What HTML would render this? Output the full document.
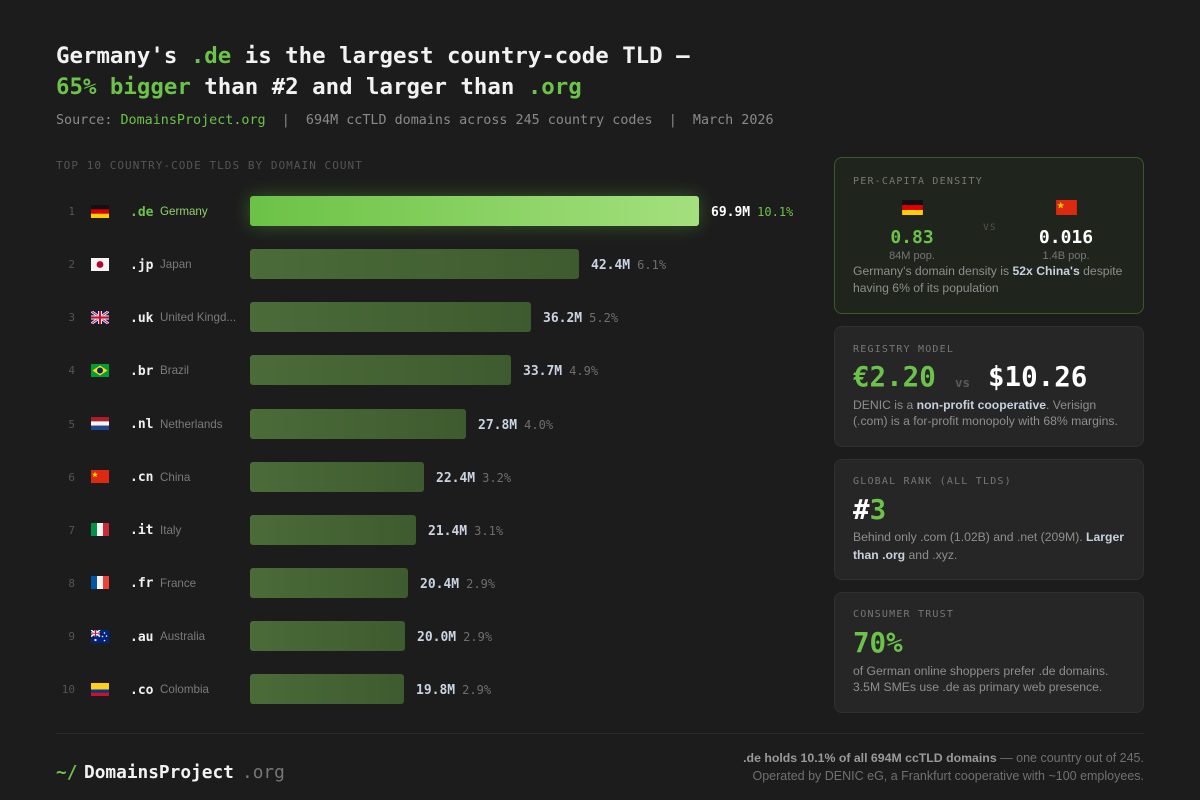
<!DOCTYPE html>
<html><head><meta charset="utf-8">
<style>
*{margin:0;padding:0;box-sizing:border-box}
html,body{width:1200px;height:800px;background:#1c1c1c;overflow:hidden}
#c{position:relative;width:1200px;height:800px;background:#1c1c1c;color:#eee}
.m{font-family:"DejaVu Sans Mono","Liberation Mono",monospace}
.s{font-family:"Liberation Sans",Arial,sans-serif}
.a{position:absolute;white-space:nowrap}
.g{color:#6cc24a}
.title{left:56px;top:40.5px;font-size:22.4px;line-height:31px;font-weight:bold;color:#f2f2f2}
.src{left:56px;top:113px;font-size:13.4px;line-height:16px;color:#8a8a8a;white-space:pre}
.sec{left:56px;top:158.5px;font-size:11px;line-height:13px;letter-spacing:1.05px;color:#555}
.row{position:absolute;left:0;width:820px;height:30px;line-height:30px}
.row .rk{position:absolute;top:1px;left:50px;width:25px;text-align:right;font-size:11px;color:#555}
.row .fl{position:absolute;left:91px;top:8.5px;width:18px;height:13px}
.row .tl{position:absolute;top:1.5px;left:130px;font-size:13px;font-weight:bold;color:#f0f0f0}
.row .nm{position:absolute;top:1px;left:160px;font-size:11.6px;color:#7a7a7a}
.row .bar{position:absolute;left:250px;top:0;height:30px;border-radius:3px;background:linear-gradient(90deg,#4b6b39,#3e5b2f)}
.row .val{position:absolute;top:1px;font-size:13px;font-weight:bold;color:#c9d3e1}
.row .val span{font-size:12px;font-weight:normal;color:#6e6e6e;margin-left:7px}
.pan{position:absolute;left:834px;width:310px;border:1px solid #303030;background:#262626;border-radius:8px}
.lab{font-size:10px;line-height:12px;letter-spacing:1.2px;color:#777}
.desc{font-size:12.2px;line-height:16.7px;color:#8e8e8e}
.desc b{color:#c6d0de}
.big{font-size:27.5px;line-height:33px;font-weight:bold}
</style></head><body><div id="c">

<div class="a m title">Germany's <span class="g">.de</span> is the largest country-code TLD —<br><span class="g">65% bigger</span> than #2 and larger than <span class="g">.org</span></div>
<div class="a m src">Source: <span class="g">DomainsProject.org</span>  |  694M ccTLD domains across 245 country codes  |  March 2026</div>
<div class="a m sec">TOP 10 COUNTRY-CODE TLDS BY DOMAIN COUNT</div>

<!-- rows -->
<div class="row m" style="top:196px">
 <div class="rk">1</div>
 <svg class="fl" viewBox="0 0 18 13"><rect width="18" height="4.4" fill="#111"/><rect y="4.33" width="18" height="4.4" fill="#dd0000"/><rect y="8.67" width="18" height="4.33" fill="#ffce00"/></svg>
 <div class="tl" style="color:#6cc24a">.de</div>
 <div class="nm s" style="color:#8fd16b">Germany</div>
 <div class="bar" style="width:449px;background:linear-gradient(90deg,#6bc245,#a4e07e);box-shadow:0 0 18px rgba(110,200,70,0.35)"></div>
 <div class="val" style="left:711px;color:#fff">69.9M<span style="color:#6cc24a">10.1%</span></div>
</div>

<div class="row m" style="top:249.14px">
 <div class="rk">2</div>
 <svg class="fl" viewBox="0 0 18 13"><rect width="18" height="13" fill="#f4f4f4"/><circle cx="9" cy="6.5" r="3.4" fill="#bc002d"/></svg>
 <div class="tl">.jp</div>
 <div class="nm s">Japan</div>
 <div class="bar" style="width:329px"></div>
 <div class="val" style="left:591px">42.4M<span>6.1%</span></div>
</div>

<div class="row m" style="top:302.28px">
 <div class="rk">3</div>
 <svg class="fl" viewBox="0 0 18 13"><rect width="18" height="13" fill="#012169"/><path d="M0 0L18 13M18 0L0 13" stroke="#fff" stroke-width="2.6"/><path d="M0 0L18 13M18 0L0 13" stroke="#c8102e" stroke-width="1"/><path d="M9 0V13M0 6.5H18" stroke="#fff" stroke-width="4"/><path d="M9 0V13M0 6.5H18" stroke="#c8102e" stroke-width="2.2"/></svg>
 <div class="tl">.uk</div>
 <div class="nm s">United Kingd...</div>
 <div class="bar" style="width:281px"></div>
 <div class="val" style="left:543px">36.2M<span>5.2%</span></div>
</div>

<div class="row m" style="top:355.42px">
 <div class="rk">4</div>
 <svg class="fl" viewBox="0 0 18 13"><rect width="18" height="13" fill="#009c3b"/><polygon points="9,1.5 16.5,6.5 9,11.5 1.5,6.5" fill="#ffdf00"/><circle cx="9" cy="6.5" r="3" fill="#002776"/></svg>
 <div class="tl">.br</div>
 <div class="nm s">Brazil</div>
 <div class="bar" style="width:261px"></div>
 <div class="val" style="left:523px">33.7M<span>4.9%</span></div>
</div>

<div class="row m" style="top:408.56px">
 <div class="rk">5</div>
 <svg class="fl" viewBox="0 0 18 13"><rect width="18" height="4.4" fill="#ae1c28"/><rect y="4.33" width="18" height="4.4" fill="#f4f4f4"/><rect y="8.67" width="18" height="4.33" fill="#21468b"/></svg>
 <div class="tl">.nl</div>
 <div class="nm s">Netherlands</div>
 <div class="bar" style="width:216px"></div>
 <div class="val" style="left:478px">27.8M<span>4.0%</span></div>
</div>

<div class="row m" style="top:461.7px">
 <div class="rk">6</div>
 <svg class="fl" viewBox="0 0 18 13"><rect width="18" height="13" fill="#de2910"/><polygon points="4,1.6 4.8,3.8 7,3.8 5.2,5.1 5.9,7.3 4,6 2.1,7.3 2.8,5.1 1,3.8 3.2,3.8" fill="#ffde00"/></svg>
 <div class="tl">.cn</div>
 <div class="nm s">China</div>
 <div class="bar" style="width:174px"></div>
 <div class="val" style="left:436px">22.4M<span>3.2%</span></div>
</div>

<div class="row m" style="top:514.84px">
 <div class="rk">7</div>
 <svg class="fl" viewBox="0 0 18 13"><rect width="6.1" height="13" fill="#009246"/><rect x="6" width="6.1" height="13" fill="#f4f4f4"/><rect x="12" width="6" height="13" fill="#ce2b37"/></svg>
 <div class="tl">.it</div>
 <div class="nm s">Italy</div>
 <div class="bar" style="width:166px"></div>
 <div class="val" style="left:428px">21.4M<span>3.1%</span></div>
</div>

<div class="row m" style="top:567.98px">
 <div class="rk">8</div>
 <svg class="fl" viewBox="0 0 18 13"><rect width="6.1" height="13" fill="#0055a4"/><rect x="6" width="6.1" height="13" fill="#f4f4f4"/><rect x="12" width="6" height="13" fill="#ef4135"/></svg>
 <div class="tl">.fr</div>
 <div class="nm s">France</div>
 <div class="bar" style="width:158px"></div>
 <div class="val" style="left:420px">20.4M<span>2.9%</span></div>
</div>

<div class="row m" style="top:621.12px">
 <div class="rk">9</div>
 <svg class="fl" viewBox="0 0 18 13"><rect width="18" height="13" fill="#00247d"/><g><path d="M0 0L9 6.5M9 0L0 6.5" stroke="#fff" stroke-width="1.4"/><path d="M4.5 0V6.5M0 3.25H9" stroke="#fff" stroke-width="2"/><path d="M4.5 0V6.5M0 3.25H9" stroke="#c8102e" stroke-width="1"/></g><circle cx="4.5" cy="10" r="1.1" fill="#fff"/><circle cx="13.5" cy="3" r="0.8" fill="#fff"/><circle cx="11.5" cy="6.5" r="0.8" fill="#fff"/><circle cx="15.5" cy="6" r="0.8" fill="#fff"/><circle cx="13.5" cy="10.5" r="0.8" fill="#fff"/></svg>
 <div class="tl">.au</div>
 <div class="nm s">Australia</div>
 <div class="bar" style="width:155px"></div>
 <div class="val" style="left:417px">20.0M<span>2.9%</span></div>
</div>

<div class="row m" style="top:674.26px">
 <div class="rk">10</div>
 <svg class="fl" viewBox="0 0 18 13"><rect width="18" height="6.6" fill="#fcd116"/><rect y="6.5" width="18" height="3.3" fill="#003893"/><rect y="9.75" width="18" height="3.25" fill="#ce1126"/></svg>
 <div class="tl">.co</div>
 <div class="nm s">Colombia</div>
 <div class="bar" style="width:154px"></div>
 <div class="val" style="left:416px">19.8M<span>2.9%</span></div>
</div>

<!-- panels -->
<div class="pan" style="top:157px;height:157px;background:#1f241c;border-color:#3a5a2b"></div>
<div class="pan" style="top:326px;height:121px"></div>
<div class="pan" style="top:459px;height:121px"></div>
<div class="pan" style="top:592px;height:121px"></div>

<!-- panel 1 -->
<div class="a m lab" style="left:853px;top:176px">PER-CAPITA DENSITY</div>
<svg class="a" style="left:902px;top:200px" width="21" height="15" viewBox="0 0 18 13"><rect width="18" height="4.4" fill="#111"/><rect y="4.33" width="18" height="4.4" fill="#dd0000"/><rect y="8.67" width="18" height="4.33" fill="#ffce00"/></svg>
<svg class="a" style="left:1056px;top:200px" width="21" height="15" viewBox="0 0 18 13"><rect width="18" height="13" fill="#de2910"/><polygon points="4,1.6 4.8,3.8 7,3.8 5.2,5.1 5.9,7.3 4,6 2.1,7.3 2.8,5.1 1,3.8 3.2,3.8" fill="#ffde00"/></svg>
<div class="a m" style="left:862px;width:100px;text-align:center;top:226.5px;font-size:18px;line-height:22px;font-weight:bold;color:#6cc24a">0.83</div>
<div class="a s" style="left:862px;width:100px;text-align:center;top:249.5px;font-size:11px;line-height:13px;color:#777">84M pop.</div>
<div class="a m" style="left:970px;width:40px;text-align:center;top:223px;font-size:9px;line-height:11px;letter-spacing:1.5px;color:#555">VS</div>
<div class="a m" style="left:1016px;width:100px;text-align:center;top:226.5px;font-size:18px;line-height:22px;font-weight:bold;color:#fff">0.016</div>
<div class="a s" style="left:1016px;width:100px;text-align:center;top:249.5px;font-size:11px;line-height:13px;color:#777">1.4B pop.</div>
<div class="a s desc" style="left:853px;top:263px">Germany's domain density is <b>52x China's</b> despite<br>having 6% of its population</div>

<!-- panel 2 -->
<div class="a m lab" style="left:853px;top:344px">REGISTRY MODEL</div>
<div class="a m big" style="left:853px;top:360.5px;color:#6cc24a">€2.20</div>
<div class="a m" style="left:955px;top:375px;font-size:12.5px;line-height:16px;font-weight:bold;color:#5a5a5a">vs</div>
<div class="a m big" style="left:988px;top:360.5px;color:#fff">$10.26</div>
<div class="a s desc" style="left:853px;top:396.6px">DENIC is a <b>non-profit cooperative</b>. Verisign<br>(.com) is a for-profit monopoly with 68% margins.</div>

<!-- panel 3 -->
<div class="a m lab" style="left:853px;top:476.3px">GLOBAL RANK (ALL TLDS)</div>
<div class="a m big" style="left:853px;top:494.2px;color:#fff">#<span class="g">3</span></div>
<div class="a s desc" style="left:853px;top:529.3px;line-height:17.3px">Behind only .com (1.02B) and .net (209M). <b>Larger<br>than .org</b> and .xyz.</div>

<!-- panel 4 -->
<div class="a m lab" style="left:853px;top:609.3px">CONSUMER TRUST</div>
<div class="a m big" style="left:853px;top:626.8px;color:#6cc24a">70%</div>
<div class="a s desc" style="left:853px;top:662.6px">of German online shoppers prefer .de domains.<br>3.5M SMEs use .de as primary web presence.</div>

<!-- footer -->
<div class="a" style="left:56px;top:733px;width:1088px;height:1px;background:#2a2a2a"></div>
<div class="a m" style="left:56px;top:762px;font-size:17.8px;line-height:22px;font-weight:bold;color:#6cc24a">~/</div>
<div class="a m" style="left:84px;top:762px;font-size:17.8px;line-height:22px;font-weight:bold;color:#f2f2f2">DomainsProject</div>
<div class="a m" style="left:242px;top:762px;font-size:17.8px;line-height:22px;color:#777">.org</div>
<div class="a s" style="right:56px;top:748.5px;text-align:right;font-size:12.5px;line-height:18px;color:#707070"><b style="color:#9a9a9a;font-size:12.3px">.de holds 10.1% of all 694M ccTLD domains</b> — one country out of 245.<br>Operated by DENIC eG, a Frankfurt cooperative with ~100 employees.</div>

</div></body></html>
